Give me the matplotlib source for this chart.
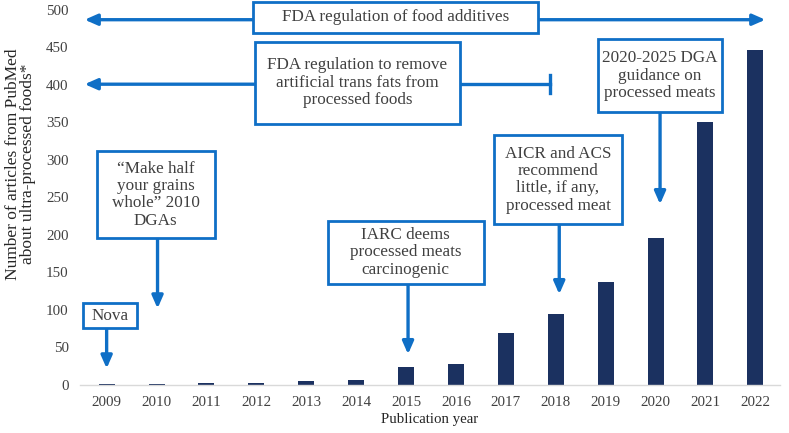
import matplotlib.pyplot as plt
from matplotlib.patches import Rectangle

plt.rcParams['font.family'] = ['Liberation Serif', 'DejaVu Serif']

years = ['2009', '2010', '2011', '2012', '2013', '2014', '2015',
         '2016', '2017', '2018', '2019', '2020', '2021', '2022']
articles = [1, 1, 2, 3, 5, 7, 24, 28, 69, 95, 137, 196, 351, 446]

bar_color = '#1b3160'
blue = '#0f6fc6'
text_color = '#404040'

# annotation boxes: text, (x0, x1, y0, y1) in data units, arrow tip (x, y)
notes = [
    ('Nova', (-0.48, 0.6, 75.4, 108.8), (0.0, 22)),
    ('\u201cMake half\nyour grains\nwhole\u201d 2010\nDGAs', (-0.2, 2.17, 195.6, 311.7), (1.02, 102)),
    ('IARC deems\nprocessed meats\ncarcinogenic', (4.43, 7.56, 135.0, 218.3), (6.04, 41)),
    ('AICR and ACS\nrecommend\nlittle, if any,\nprocessed meat', (7.76, 10.33, 214.2, 333.1), (9.07, 121)),
    ('2020-2025 DGA\nguidance on\nprocessed meats', (9.84, 12.33, 363.8, 461.3), (11.09, 241)),
]

fig = plt.figure(figsize=(7.89, 4.33), dpi=100)
ax = fig.add_axes([0.101, 0.111, 0.888, 0.866])

x = list(range(len(years)))
ax.bar(x, articles, width=0.32, color=bar_color, zorder=2)

ax.set_xlim(-0.54, 13.5)
ax.set_ylim(0, 500)
ax.set_xticks(x)
ax.set_xticklabels(years)
ax.set_yticks(range(0, 501, 50))
ax.tick_params(length=0, labelsize=10.8, colors=text_color, pad=8)
for s in ['top', 'right', 'left']:
    ax.spines[s].set_visible(False)
ax.spines['bottom'].set_color('#d9d9d9')
ax.spines['bottom'].set_linewidth(1)

ax.set_xlabel('Publication year', fontsize=10.7, color='#262626', labelpad=3)
ax.set_ylabel('Number of articles from PubMed\nabout ultra-processed foods*',
              fontsize=12.5, color='#262626', linespacing=0.95)
ax.yaxis.set_label_coords(-0.062, 0.59)

head = '-|>,head_length=0.5,head_width=0.22'


def box(x0, x1, y0, y1, txt, z=5):
    r = Rectangle((x0, y0), x1 - x0, y1 - y0, facecolor='white', edgecolor=blue,
                  lw=2, zorder=z, clip_on=False)
    ax.add_patch(r)
    ax.text((x0 + x1) / 2, (y0 + y1) / 2, txt, ha='center', va='center',
            fontsize=12.3, color=text_color, linespacing=1.12, zorder=z + 1,
            clip_on=False)


# FDA food additives: double-headed arrow across the chart
ax.annotate('', xy=(-0.44, 487), xytext=(5.8, 487),
            arrowprops=dict(arrowstyle=head, color=blue, lw=2.4, mutation_scale=15,
                            shrinkA=0, shrinkB=0), annotation_clip=False, zorder=4)
ax.annotate('', xy=(13.2, 487), xytext=(5.8, 487),
            arrowprops=dict(arrowstyle=head, color=blue, lw=2.4, mutation_scale=15,
                            shrinkA=0, shrinkB=0), annotation_clip=False, zorder=4)
box(2.93, 8.65, 469.3, 510.7, 'FDA regulation of food additives')

# FDA trans fats: arrow left, bar end right
ax.annotate('', xy=(-0.44, 401), xytext=(5.0, 401),
            arrowprops=dict(arrowstyle=head, color=blue, lw=2.4, mutation_scale=15,
                            shrinkA=0, shrinkB=0), zorder=4)
ax.plot([5.0, 8.89], [401, 401], color=blue, lw=2.4, zorder=4)
ax.plot([8.89, 8.89], [389, 413], color=blue, lw=2.4, zorder=4)
box(2.97, 7.08, 347.9, 457.7,
    'FDA regulation to remove\nartificial trans fats from\nprocessed foods')

for txt, (x0, x1, y0, y1), (tx, ty) in notes:
    box(x0, x1, y0, y1, txt)
    ax.annotate('', xy=(tx, ty), xytext=(tx, y0),
                arrowprops=dict(arrowstyle=head, color=blue, lw=2.4, mutation_scale=15,
                                shrinkA=0, shrinkB=0), zorder=4)

fig.savefig('out.png', dpi=100)
